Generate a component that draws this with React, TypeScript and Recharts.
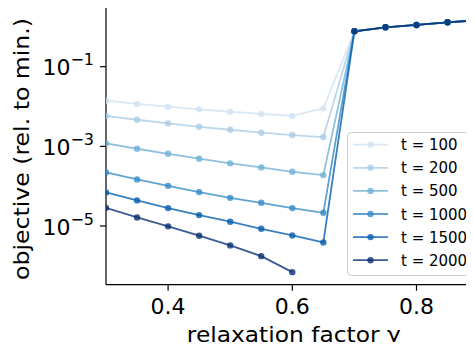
import React from 'react';
import { LineChart, Line, XAxis, YAxis } from 'recharts';

const FONT = '"DejaVu Sans", sans-serif';

// relaxation factor gamma (x categories)
const gammaValues = [0.3, 0.35, 0.4, 0.45, 0.5, 0.55, 0.6, 0.65, 0.7, 0.75, 0.8, 0.85, 0.9];

// series labels and colors
const seriesNames = ['t = 100', 't = 200', 't = 500', 't = 1000', 't = 1500', 't = 2000'];
const seriesColors = ['#d1e2f2', '#abcde6', '#72b0d7', '#378cc7', '#095faf', '#0a3173'];

// objective values (rel. to min.) for gamma 0.30 ... 0.65
const t100 = [1.4e-2, 1.16e-2, 9.9e-3, 8.5e-3, 7.4e-3, 6.5e-3, 5.8e-3, 9.0e-3];
const t200 = [5.8e-3, 4.66e-3, 3.78e-3, 3.1e-3, 2.61e-3, 2.2e-3, 1.92e-3, 1.71e-3];
const t500 = [1.19e-3, 8.7e-4, 6.5e-4, 4.9e-4, 3.74e-4, 2.96e-4, 2.3e-4, 1.9e-4];
const t1000 = [2.22e-4, 1.48e-4, 1.02e-4, 7.1e-5, 5.1e-5, 3.83e-5, 2.82e-5, 2.15e-5];
const t1500 = [6.98e-5, 4.4e-5, 2.82e-5, 1.88e-5, 1.28e-5, 8.5e-6, 5.8e-6, 3.87e-6];
const t2000 = [2.86e-5, 1.64e-5, 9.8e-6, 5.7e-6, 3.26e-6, 1.75e-6, 6.95e-7, null];
// values for gamma 0.70 ... 0.90 (identical for all t)
const highGamma = [0.774, 0.977, 1.117, 1.303, 1.48];

const seriesLow = [t100, t200, t500, t1000, t1500, t2000];

const xTicks = [0.4, 0.6, 0.8];
const yTicks = [1e-5, 1e-3, 1e-1];
const yDomain = [3.36e-7, 3.44];
const xDomain = [0.3, 0.9];

const data = gammaValues.map((g, i) => {
  const row: Record<string, number | null> = { gamma: g };
  seriesNames.forEach((name, s) => {
    row[name] = i < seriesLow[s].length ? seriesLow[s][i] : highGamma[i - seriesLow[s].length];
  });
  return row;
});

const textStyle = { fontFamily: FONT };

const YTick = (props: any) => {
  const { x, y, payload } = props;
  const exp = Math.round(Math.log10(payload.value));
  return (
    <text x={x} y={y + 8.5} textAnchor="end" style={textStyle} fontSize={22} fill="#000">
      <tspan>10</tspan>
      <tspan dy={-10} fontSize={16}>{`\u2212${Math.abs(exp)}`}</tspan>
    </text>
  );
};

const XTick = (props: any) => {
  const { x, y, payload } = props;
  return (
    <text x={x} y={y + 23} textAnchor="middle" style={textStyle} fontSize={22} fill="#000">
      {Number(payload.value).toFixed(1)}
    </text>
  );
};

const XLabel = (props: any) => {
  const vb = props.viewBox || { x: 106, width: 372.6, y: 284.7 };
  const cx = vb.x + vb.width / 2 + 1.5;
  return (
    <text x={cx} y={342} textAnchor="middle" style={textStyle} fontSize={22} fill="#000" textLength={214} lengthAdjust="spacingAndGlyphs">
      relaxation factor γ
    </text>
  );
};

const YLabel = () => {
  const cy = 149;
  const cx = 29;
  return (
    <text x={cx} y={cy} textAnchor="middle" style={textStyle} fontSize={22} fill="#000" transform={`rotate(-90, ${cx}, ${cy})`} textLength={262} lengthAdjust="spacingAndGlyphs">
      objective (rel. to min.)
    </text>
  );
};

const LegendBox = () => {
  const x0 = 347.5;
  const y0 = 132.5;
  const rowY = (i: number) => 144.7 + i * 23.1;
  return (
    <svg width={474} height={350} style={{ position: 'absolute', left: 0, top: 0, pointerEvents: 'none' }}>
      <rect x={x0} y={y0} width={123} height={143} rx={4} ry={4} fill="#fff" fillOpacity={0.8} stroke="#cccccc" strokeWidth={1} />
      {seriesNames.map((name, i) => (
        <g key={name}>
          <line x1={353} x2={388} y1={rowY(i)} y2={rowY(i)} stroke={seriesColors[i]} strokeOpacity={0.8} strokeWidth={1.8} />
          <circle cx={370.5} cy={rowY(i)} r={3.2} fill={seriesColors[i]} fillOpacity={0.8} />
          <text x={401} y={rowY(i) + 5.5} style={textStyle} fontSize={15} fill="#000">{name}</text>
        </g>
      ))}
    </svg>
  );
};

export default function App() {
  return (
    <div style={{ position: 'relative', margin: -8, width: 474, height: 350, overflow: 'hidden', background: '#fff', fontFamily: FONT }}>
      <LineChart width={480} height={350} data={data} margin={{ top: 5.5, right: 1.4, bottom: 0, left: 0 }}>
        <XAxis
          dataKey="gamma"
          type="number"
          domain={xDomain}
          ticks={xTicks}
          allowDataOverflow
          height={65.3}
          tickSize={6}
          tickMargin={0}
          tick={<XTick />}
          axisLine={{ stroke: '#000', strokeWidth: 1.2 }}
          tickLine={{ stroke: '#000', strokeWidth: 1.2 }}
          label={<XLabel />}
        />
        <XAxis
          xAxisId="top"
          orientation="top"
          dataKey="gamma"
          type="number"
          domain={xDomain}
          height={0}
          tick={false}
          tickLine={false}
          axisLine={{ stroke: '#000', strokeWidth: 1.2 }}
        />
        <YAxis
          scale="log"
          type="number"
          domain={yDomain}
          ticks={yTicks}
          allowDataOverflow
          width={106}
          tickSize={6}
          tickMargin={6}
          tick={<YTick />}
          axisLine={{ stroke: '#000', strokeWidth: 1.2 }}
          tickLine={{ stroke: '#000', strokeWidth: 1.2 }}
          label={<YLabel />}
        />
        {seriesNames.map((name, i) => (
          <Line
            key={name}
            dataKey={name}
            type="linear"
            stroke={seriesColors[i]}
            strokeOpacity={0.8}
            strokeWidth={1.8}
            connectNulls={false}
            dot={{ r: 3.2, fill: seriesColors[i], fillOpacity: 0.8, stroke: 'none', strokeWidth: 0 }}
            activeDot={false}
            isAnimationActive={false}
          />
        ))}
      </LineChart>
      <LegendBox />
    </div>
  );
}
